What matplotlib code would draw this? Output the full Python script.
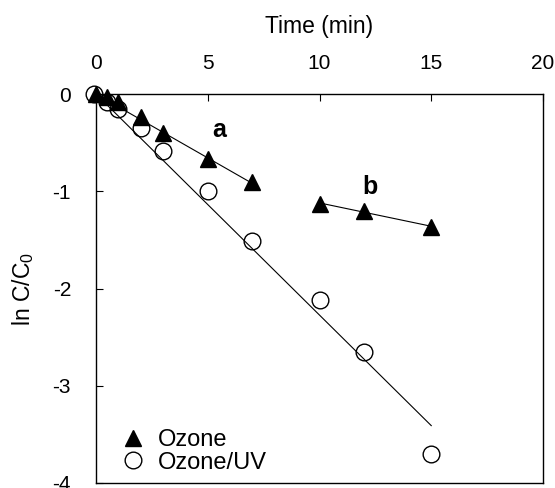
import numpy as np
import matplotlib
matplotlib.use("Agg")
import matplotlib.pyplot as plt

plt.rcParams["font.family"] = ["Liberation Sans", "DejaVu Sans"]
plt.rcParams["axes.unicode_minus"] = False

# --- Data ---
t_ozone = [0, 0.5, 1, 2, 3, 5, 7, 10, 12, 15]
lnc_ozone = [0, -0.03, -0.08, -0.24, -0.40, -0.67, -0.90, -1.13, -1.20, -1.37]

t_uv = [-0.1, 0.5, 1, 2, 3, 5, 7, 10, 12, 15]
lnc_uv = [0, -0.08, -0.15, -0.35, -0.59, -1.0, -1.51, -2.12, -2.65, -3.70]

# fitted lines (end points)
fit_a_t = [0, 7]
fit_a_y = [0, -0.92]
fit_b_t = [10, 15]
fit_b_y = [-1.12, -1.36]
fit_uv_t = [0, 15]
fit_uv_y = [0, -3.41]

fig = plt.figure(figsize=(5.55, 4.88), dpi=100)
ax = fig.add_axes([96 / 555, 1 - 483 / 488, 447 / 555, 389 / 488])

ax.plot(fit_a_t, fit_a_y, color="black", lw=0.8, zorder=2)
ax.plot(fit_b_t, fit_b_y, color="black", lw=0.8, zorder=2)
ax.plot(fit_uv_t, fit_uv_y, color="black", lw=0.8, zorder=2)

ax.plot(t_ozone, lnc_ozone, linestyle="none", marker="^", ms=11,
        color="black", label="Ozone", zorder=3, clip_on=False)
ax.plot(t_uv, lnc_uv, linestyle="none", marker="o", ms=12, mfc="none",
        mec="black", mew=1.0, label="Ozone/UV", zorder=4, clip_on=False)

ax.text(5.5, -0.37, "a", fontsize=18, fontweight="bold", ha="center", va="center")
ax.text(12.25, -0.96, "b", fontsize=18, fontweight="bold", ha="center", va="center")

ax.set_xlim(0, 20)
ax.set_ylim(-4, 0)
ax.xaxis.tick_top()
ax.xaxis.set_label_position("top")
ax.set_xticks([0, 5, 10, 15, 20])
ax.set_yticks([0, -1, -2, -3, -4])
ax.tick_params(direction="in", length=5, width=0.8, labelsize=15)
ax.tick_params(axis="y", pad=18)
ax.tick_params(axis="x", pad=15)
ax.set_xlabel("Time (min)", fontsize=16.5, labelpad=15)
ax.set_ylabel("ln C/C$_\\mathregular{0}$", fontsize=16.5, labelpad=12)
for s in ax.spines.values():
    s.set_linewidth(1.0)

ax.legend(loc="lower left", frameon=False, fontsize=17, handletextpad=0.45,
          handlelength=1.2, borderaxespad=0.2, labelspacing=0.02,
          bbox_to_anchor=(0.02, -0.012))

fig.savefig("out.png", dpi=100)
